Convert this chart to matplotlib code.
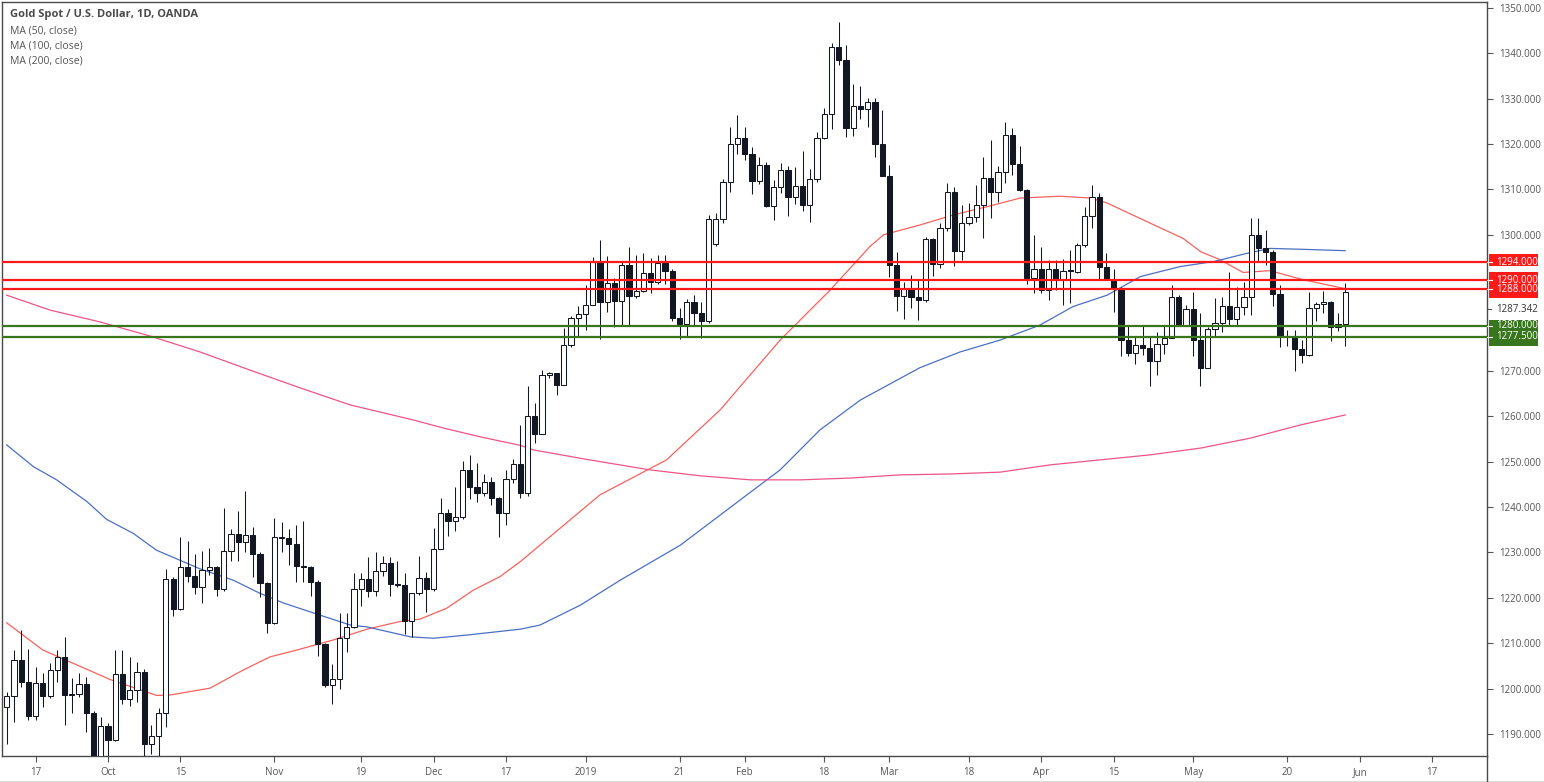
import matplotlib
matplotlib.use("Agg")
import matplotlib.pyplot as plt
import matplotlib.transforms as mtransforms
from matplotlib.patches import Rectangle
from matplotlib.lines import Line2D
import numpy as np
import pandas as pd

plt.rcParams['font.family'] = ['Open Sans', 'DejaVu Sans']

# ---- daily candles, XAU/USD ----
opens = [
    1196.0, 1198.4, 1206.3, 1201.5, 1194.0, 1201.2, 1198.4, 1204.1, 1207.0, 1198.6,
    1198.9, 1201.0, 1194.6, 1184.5, 1191.8, 1188.7, 1203.2, 1197.7, 1199.8, 1203.7,
    1187.9, 1189.6, 1194.6, 1224.2, 1217.5, 1226.9, 1224.9, 1222.5, 1226.2, 1226.7,
    1222.0, 1230.4, 1234.1, 1232.3, 1233.8, 1229.6, 1223.2, 1214.5, 1233.4, 1233.1,
    1231.8, 1227.1, 1226.7, 1223.4, 1209.8, 1200.7, 1202.1, 1211.1, 1213.5, 1221.9,
    1224.1, 1221.6, 1226.0, 1227.6, 1223.1, 1222.9, 1214.9, 1221.0, 1224.4, 1221.9,
    1230.7, 1238.6, 1237.0, 1237.9, 1248.2, 1244.5, 1243.2, 1245.6, 1242.1, 1238.8,
    1246.1, 1249.5, 1243.2, 1260.1, 1256.1, 1269.1, 1269.5, 1266.8, 1275.7, 1281.6,
    1282.5, 1284.5, 1294.1, 1285.2, 1289.3, 1285.4, 1293.4, 1286.5, 1287.6, 1291.5,
    1289.5, 1293.7, 1292.1, 1281.6, 1280.3, 1285.1, 1282.8, 1281.1, 1298.0, 1303.4,
    1311.6, 1319.9, 1321.4, 1317.8, 1311.9, 1315.4, 1306.4, 1310.5, 1314.3, 1308.3,
    1310.8, 1306.6, 1312.2, 1321.3, 1326.6, 1341.3, 1338.5, 1323.5, 1328.3, 1327.7,
    1329.2, 1320.0, 1313.0, 1293.4, 1286.6, 1288.0, 1286.4, 1285.6, 1299.0, 1293.6,
    1301.6, 1309.4, 1296.5, 1302.5, 1303.9, 1306.6, 1312.5, 1309.5, 1313.8, 1322.0,
    1315.6, 1309.9, 1290.4, 1292.4, 1287.8, 1292.4, 1290.1, 1292.3, 1291.9, 1297.8,
    1304.2, 1308.3, 1292.8, 1290.3, 1288.2, 1276.8, 1274.0, 1275.7, 1275.0, 1272.2,
    1275.9, 1277.2, 1286.2, 1280.0, 1283.6, 1276.8, 1270.7, 1279.2, 1280.5, 1284.3,
    1281.5, 1284.2, 1286.2, 1300.0, 1297.0, 1296.3, 1286.9, 1277.6, 1277.7, 1274.8,
    1273.5, 1283.8, 1284.7, 1285.3, 1279.6, 1280.3,
]
highs = [
    1199.3, 1208.5, 1212.9, 1208.7, 1204.8, 1203.5, 1205.6, 1208.5, 1211.3, 1202.3,
    1203.5, 1202.6, 1195.0, 1193.8, 1192.5, 1208.5, 1208.5, 1206.9, 1205.8, 1204.3,
    1192.0, 1195.7, 1226.3, 1224.5, 1233.3, 1232.6, 1229.7, 1230.4, 1230.9, 1227.0,
    1239.7, 1235.1, 1239.2, 1243.6, 1235.7, 1230.0, 1223.6, 1237.5, 1236.8, 1235.1,
    1236.1, 1237.0, 1227.0, 1223.9, 1210.0, 1205.4, 1216.6, 1216.7, 1225.4, 1225.4,
    1228.9, 1230.0, 1229.2, 1228.9, 1228.1, 1225.4, 1221.0, 1229.2, 1225.6, 1235.3,
    1242.1, 1239.5, 1244.5, 1250.2, 1251.5, 1249.8, 1247.4, 1246.7, 1242.3, 1248.2,
    1250.6, 1258.0, 1266.7, 1263.0, 1270.2, 1269.8, 1269.5, 1279.4, 1282.0, 1284.3,
    1288.9, 1295.2, 1298.9, 1295.3, 1290.4, 1294.1, 1297.4, 1295.6, 1296.0, 1294.8,
    1295.6, 1295.6, 1292.5, 1283.8, 1285.8, 1286.7, 1285.1, 1304.4, 1304.8, 1312.3,
    1323.8, 1326.4, 1323.8, 1319.4, 1317.2, 1316.0, 1312.1, 1315.8, 1315.2, 1315.0,
    1318.5, 1314.4, 1322.7, 1327.9, 1342.2, 1347.0, 1341.8, 1333.2, 1332.8, 1330.1,
    1330.1, 1327.5, 1315.4, 1296.3, 1289.7, 1291.1, 1290.0, 1299.5, 1299.2, 1302.5,
    1311.4, 1310.5, 1306.6, 1306.9, 1311.0, 1317.1, 1320.8, 1315.2, 1324.8, 1323.5,
    1319.6, 1310.0, 1300.0, 1297.4, 1294.4, 1294.5, 1294.6, 1296.7, 1298.2, 1306.2,
    1311.0, 1309.3, 1296.1, 1292.4, 1288.4, 1280.1, 1277.6, 1280.1, 1277.6, 1278.5,
    1280.1, 1289.0, 1286.8, 1284.5, 1287.3, 1282.7, 1279.6, 1286.0, 1286.4, 1291.7,
    1288.6, 1289.5, 1303.7, 1303.7, 1301.1, 1296.6, 1289.0, 1279.0, 1279.0, 1276.8,
    1287.5, 1285.3, 1287.7, 1285.5, 1282.7, 1289.3,
]
lows = [
    1187.9, 1192.7, 1200.4, 1193.1, 1193.1, 1196.0, 1197.9, 1201.5, 1192.0, 1194.6,
    1198.2, 1190.5, 1182.0, 1183.0, 1184.0, 1188.5, 1196.6, 1196.2, 1197.1, 1184.0,
    1185.5, 1185.0, 1191.6, 1216.1, 1217.3, 1223.6, 1220.9, 1218.8, 1225.1, 1220.3,
    1221.5, 1228.2, 1228.2, 1230.2, 1224.5, 1220.1, 1212.2, 1214.3, 1230.0, 1227.2,
    1223.6, 1223.6, 1220.5, 1207.1, 1200.3, 1196.6, 1199.9, 1208.0, 1213.3, 1218.3,
    1220.1, 1220.3, 1224.9, 1220.5, 1222.5, 1212.0, 1211.3, 1220.6, 1216.8, 1221.6,
    1230.7, 1233.6, 1234.8, 1237.4, 1241.8, 1241.2, 1242.5, 1240.5, 1233.3, 1236.1,
    1245.2, 1241.9, 1242.5, 1254.1, 1256.1, 1268.5, 1264.6, 1266.8, 1275.3, 1277.6,
    1279.0, 1284.5, 1277.0, 1282.9, 1279.6, 1280.1, 1280.1, 1286.0, 1287.5, 1287.1,
    1289.1, 1289.1, 1281.1, 1277.0, 1277.6, 1280.1, 1277.2, 1280.5, 1297.5, 1302.5,
    1309.5, 1317.8, 1316.5, 1308.9, 1311.1, 1306.1, 1303.3, 1309.2, 1304.2, 1306.8,
    1305.3, 1302.8, 1311.7, 1321.1, 1323.3, 1337.4, 1321.5, 1321.8, 1325.5, 1323.8,
    1317.2, 1313.0, 1290.6, 1283.3, 1281.5, 1283.8, 1281.2, 1285.3, 1291.0, 1292.6,
    1300.9, 1293.2, 1294.5, 1302.2, 1302.8, 1299.2, 1303.6, 1307.3, 1311.4, 1313.2,
    1309.7, 1289.2, 1287.1, 1287.1, 1285.6, 1287.9, 1284.5, 1284.9, 1291.5, 1297.4,
    1301.4, 1290.1, 1290.0, 1282.9, 1273.4, 1273.2, 1271.5, 1273.5, 1266.7, 1269.1,
    1273.7, 1277.2, 1279.8, 1279.8, 1273.4, 1266.7, 1270.7, 1277.6, 1278.5, 1279.8,
    1279.8, 1282.4, 1282.4, 1294.1, 1293.4, 1284.3, 1275.2, 1275.4, 1269.9, 1271.7,
    1273.3, 1281.1, 1282.7, 1276.5, 1278.7, 1275.4,
]
closes = [
    1198.4, 1206.3, 1201.5, 1194.0, 1201.2, 1198.4, 1204.1, 1207.0, 1198.6, 1198.9,
    1201.0, 1194.6, 1185.0, 1191.8, 1188.7, 1203.2, 1197.7, 1199.8, 1203.7, 1187.9,
    1189.6, 1194.6, 1224.2, 1217.5, 1226.9, 1224.9, 1222.5, 1226.2, 1226.7, 1222.0,
    1230.4, 1234.1, 1232.3, 1233.8, 1229.6, 1223.2, 1214.5, 1233.4, 1233.1, 1231.8,
    1227.1, 1226.7, 1223.4, 1209.8, 1200.7, 1202.1, 1211.1, 1213.5, 1221.9, 1224.1,
    1221.6, 1226.0, 1227.6, 1223.1, 1222.9, 1214.9, 1221.0, 1224.4, 1221.9, 1230.7,
    1238.6, 1237.0, 1237.9, 1248.2, 1244.5, 1243.2, 1245.6, 1242.1, 1238.8, 1246.1,
    1249.5, 1243.2, 1260.1, 1256.1, 1269.1, 1269.5, 1266.8, 1275.7, 1281.6, 1282.5,
    1284.5, 1294.1, 1285.2, 1289.3, 1285.4, 1293.4, 1286.5, 1287.6, 1291.5, 1289.5,
    1293.7, 1292.1, 1281.6, 1280.3, 1285.1, 1282.8, 1281.1, 1303.4, 1303.4, 1311.6,
    1319.9, 1321.4, 1317.8, 1311.9, 1315.4, 1306.4, 1310.5, 1314.3, 1308.3, 1310.8,
    1306.6, 1312.2, 1321.3, 1326.6, 1341.3, 1338.5, 1323.5, 1328.3, 1327.7, 1329.2,
    1320.0, 1313.0, 1293.4, 1286.6, 1288.0, 1286.4, 1285.6, 1299.0, 1293.6, 1301.6,
    1309.4, 1296.5, 1302.5, 1303.9, 1306.6, 1312.5, 1309.5, 1313.8, 1322.0, 1315.6,
    1309.9, 1290.4, 1292.4, 1287.8, 1292.4, 1290.1, 1292.1, 1292.0, 1297.8, 1304.2,
    1308.3, 1292.8, 1290.3, 1288.2, 1276.8, 1274.0, 1275.7, 1275.0, 1272.2, 1275.9,
    1277.2, 1286.2, 1280.0, 1283.6, 1276.8, 1270.7, 1279.2, 1280.5, 1284.3, 1281.5,
    1284.2, 1286.2, 1300.0, 1297.0, 1296.3, 1286.9, 1277.6, 1277.7, 1274.8, 1273.5,
    1283.8, 1284.7, 1285.3, 1279.6, 1280.3, 1287.342,
]

# moving averages, sampled from the chart as (bar index, value)
ma50_x = [0, 5, 14.3, 20.7, 22.6, 28.1, 32.7, 36.4, 40.1, 45.1, 49.8, 54.4, 57.1, 60.8,
          64.5, 68.2, 71, 82, 91.2, 98.6, 106.9, 113.8, 119.3, 121.2, 126.3, 130.9,
          135.5, 140.1, 145.6, 149.8, 152.1, 157.6, 162.6, 165, 167.7, 170.9, 174.6,
          179.2, 184.8]
ma50_y = [1214.5, 1208.5, 1202.0, 1198.5, 1198.6, 1200.1, 1204.1, 1207.0, 1208.5, 1210.7,
          1213.1, 1214.8, 1215.3, 1217.7, 1221.7, 1224.7, 1228.0, 1242.7, 1250.4, 1261.4,
          1276.8, 1287.8, 1297.4, 1300.0, 1302.2, 1304.4, 1306.2, 1308.1, 1308.5, 1308.1,
          1307.0, 1302.9, 1299.2, 1296.3, 1294.5, 1291.7, 1292.1, 1290.1, 1288.2]
ma100_x = [0, 3.7, 6.9, 11.1, 13.8, 17.5, 20.7, 26.7, 31.3, 35, 38.2, 42.9, 47.5, 49.8,
           55.8, 59, 63.6, 71, 73.7, 79.3, 84.8, 93.1, 101.4, 106.9, 112.4, 118, 126.2,
           131.8, 137.3, 142.8, 147.4, 152.1, 156.7, 162.2, 166.8, 171.4, 174.6, 179.2, 185]
ma100_y = [1253.7, 1248.9, 1246.0, 1241.2, 1237.3, 1234.2, 1230.5, 1226.4, 1223.9, 1221.0,
           1218.9, 1216.4, 1214.0, 1213.6, 1211.4, 1211.1, 1211.8, 1213.1, 1214.0, 1218.4,
           1223.9, 1231.6, 1241.6, 1248.2, 1257.0, 1263.6, 1270.7, 1274.2, 1276.8, 1280.1,
           1284.2, 1286.7, 1290.8, 1293.0, 1294.1, 1295.9, 1297.0, 1296.8, 1296.5]
ma200_x = [0, 6, 12.9, 19.8, 26.7, 33.6, 40.5, 47.5, 56.2, 60.4, 65.4, 71, 72.8, 80.2,
           88.9, 95.8, 102.8, 109.7, 116.6, 123.5, 130.4, 137.3, 144.2, 151.1, 158, 165,
           171.9, 178.8, 185]
ma200_y = [1286.7, 1283.4, 1280.8, 1277.7, 1274.2, 1270.2, 1266.3, 1262.5, 1259.2, 1257.4,
           1255.5, 1253.6, 1252.6, 1250.5, 1248.2, 1246.9, 1246.0, 1246.0, 1246.4, 1247.1,
           1247.3, 1247.7, 1249.3, 1250.4, 1251.5, 1253.0, 1255.2, 1258.1, 1260.3]

resistance = [1294.0, 1290.0, 1288.0]
support = [1280.0, 1277.5]
last_price = 1287.342

tick_dates = ['2018-09-17', '2018-10-01', '2018-10-15', '2018-11-01', '2018-11-19',
              '2018-12-03', '2018-12-17', '2019-01-02', '2019-01-21', '2019-02-01',
              '2019-02-18', '2019-03-01', '2019-03-18', '2019-04-01', '2019-04-15',
              '2019-05-01', '2019-05-20', '2019-06-03', '2019-06-17']
tick_labels = ['17', 'Oct', '15', 'Nov', '19', 'Dec', '17', '2019', '21', 'Feb',
               '18', 'Mar', '18', 'Apr', '15', 'May', '20', 'Jun', '17']

# trading days (no bar on Jan 1 and Good Friday)
days = pd.bdate_range('2018-09-11', '2019-06-28')
days = days.drop([pd.Timestamp('2019-01-01'), pd.Timestamp('2019-04-19')])
pos = {d.strftime('%Y-%m-%d'): i for i, d in enumerate(days)}

# ---- figure ----
W, H = 1544, 782
fig = plt.figure(figsize=(W / 100, H / 100), dpi=100)
ax = fig.add_axes([2 / W, (H - 756) / H, (1487 - 2) / W, (756 - 2) / H])

x = np.arange(len(closes))
o = np.array(opens)
c = np.array(closes)
hi = np.array(highs)
lo = np.array(lows)
up = c >= o
dark = '#131722'

ax.vlines(x, lo, hi, color=dark, lw=0.75, zorder=3)
body_lo = np.minimum(o, c)
body_h = np.maximum(np.abs(c - o), 0.2)
ax.bar(x[up], body_h[up], bottom=body_lo[up], width=0.72, color='white',
       edgecolor=dark, linewidth=0.75, zorder=4)
ax.bar(x[~up], body_h[~up], bottom=body_lo[~up], width=0.72, color=dark,
       edgecolor=dark, linewidth=0.75, zorder=4)

ax.plot(ma50_x, ma50_y, color='#f7625e', lw=0.9, zorder=2)
ax.plot(ma100_x, ma100_y, color='#4c6fc4', lw=0.9, zorder=2)
ax.plot(ma200_x, ma200_y, color='#ef5486', lw=0.9, zorder=2)

for lvl in resistance:
    ax.axhline(lvl, color='#ff1a1a', lw=1.6, zorder=5)
for lvl in support:
    ax.axhline(lvl, color='#38761d', lw=1.6, zorder=5)

ax.set_xlim(-0.65, 204.6)
ax.set_ylim(1185.15, 1351.3)

yt = [v for v in range(1190, 1351, 10) if v not in (1280, 1290)]
ax.yaxis.tick_right()
ax.set_yticks(yt)
ax.set_yticklabels([f'{v:.3f}' for v in yt])
ax.set_xticks([pos[d] for d in tick_dates])
ax.set_xticklabels(tick_labels)
ax.tick_params(axis='both', colors='#555555', labelsize=7, length=4, width=0.8)
ax.tick_params(axis='y', pad=5)
ax.tick_params(axis='x', pad=4)
for s in ax.spines.values():
    s.set_color('#4a4a4a')
    s.set_linewidth(1)

# price boxes on the right scale
trans = mtransforms.blended_transform_factory(ax.transAxes, ax.transData)
x0 = 1.0
def box(y0, y1, color):
    ax.add_patch(Rectangle((x0 + 2 / 1485, y0), 49 / 1485, y1 - y0, transform=trans,
                           facecolor=color, edgecolor='none', clip_on=False, zorder=6))

box(1293.1, 1295.8, '#ff1a1a')
box(1286.0, 1291.7, '#ff1a1a')
box(1275.5, 1281.2, '#38761d')
for lvl in resistance + support:
    ax.text(x0 + 9 / 1485, lvl, f'{lvl:.3f}', transform=trans, color='white', fontsize=7,
            va='center', ha='left', zorder=7, clip_on=False)
    ax.plot([x0, x0 + 5 / 1485], [lvl, lvl], transform=trans,
            color='white', lw=0.8, clip_on=False, zorder=7)
ax.text(x0 + 9 / 1485, 1283.6, f'{last_price:.3f}', transform=trans, color='#333333',
        fontsize=7, va='center', ha='left', clip_on=False)
ax.plot([x0, x0 + 4 / 1485], [1283.6, 1283.6], transform=trans,
        color='#555555', lw=0.8, clip_on=False)

# outer frame below the price scale
fig.add_artist(Line2D([1487 / W, 1487 / W], [0, (H - 756) / H], color='#4a4a4a', lw=1))
fig.add_artist(Line2D([0, 1], [0.5 / H, 0.5 / H], color='#4a4a4a', lw=1))

# legend block top-left
fig.text(10 / W, 1 - 15 / H, 'Gold Spot / U.S. Dollar, 1D, OANDA', fontsize=8,
         color='#4a4a4a', fontweight='bold', va='center')
for i, t in enumerate(['MA (50, close)', 'MA (100, close)', 'MA (200, close)']):
    fig.text(10 / W, 1 - (31 + 15 * i) / H, t, fontsize=7.5, color='#555555', va='center')

fig.savefig('out.png', dpi=100, facecolor='white')
